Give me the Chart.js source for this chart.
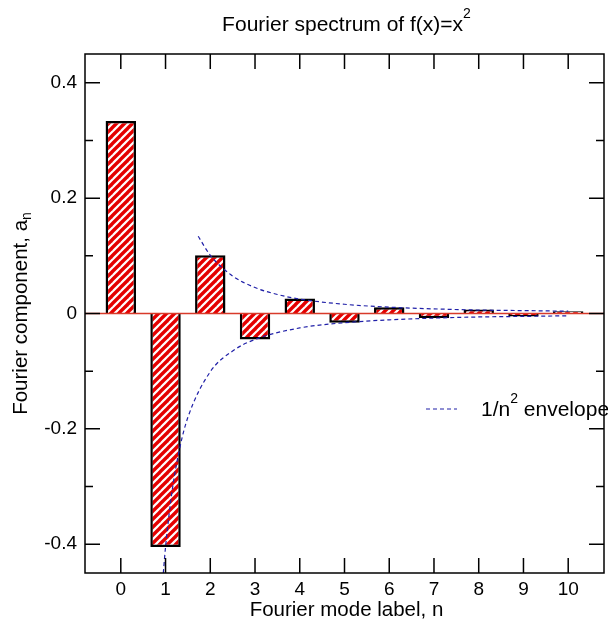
<!DOCTYPE html>
<html>
<head>
<meta charset="utf-8">
<script src="https://cdn.jsdelivr.net/npm/chart.js@4/dist/chart.umd.min.js"></script>
<style>
  html, body { margin: 0; padding: 0; background: #fff; }
  #wrap { width: 608px; height: 621px; }
</style>
</head>
<body>
<div id="wrap"><canvas id="spectrum"></canvas></div>
<script>
// mode numbers and their coefficients a_n
const modes = [0, 1, 2, 3, 4, 5, 6, 7, 8, 9, 10];
const coeffs = [0.334, -0.405, 0.101, -0.045, 0.026, -0.016, 0.011, -0.008, 0.007, -0.005, 0.004];

// dashed 1/n^2 envelope, upper and lower branch
const envUpperN = [1.73, 2, 2.5, 3, 3.5, 4, 5, 6, 7, 8, 9, 10];
const envUpperY = [0.134, 0.101, 0.065, 0.045, 0.033, 0.025, 0.016, 0.011, 0.008, 0.006, 0.005, 0.004];
const envLowerN = [0.95, 1, 1.15, 1.33, 1.5, 2, 2.5, 3, 4, 5, 6, 7, 8, 9, 10];
const envLowerY = [-0.45, -0.405, -0.306, -0.229, -0.18, -0.101, -0.065, -0.045, -0.025, -0.016, -0.011, -0.008, -0.006, -0.005, -0.004];

const yMajor = [-0.4, -0.2, 0, 0.2, 0.4];
const yMinor = [-0.3, -0.1, 0.1, 0.3];
const xTicks = modes;

const FONT = '"Liberation Sans", Arial, Helvetica, sans-serif';

// red / white diagonal hatch
function makeHatch() {
  const c = document.createElement('canvas');
  c.width = 8; c.height = 8;
  const g = c.getContext('2d');
  g.fillStyle = '#ffffff';
  g.fillRect(0, 0, 8, 8);
  g.strokeStyle = '#e40000';
  g.lineWidth = 3.4;
  for (let o = -8; o <= 8; o += 8) {
    g.beginPath();
    g.moveTo(o - 2, 10);
    g.lineTo(o + 10, -2);
    g.stroke();
  }
  return g.createPattern(c, 'repeat');
}

// draw text made of pieces, some raised or lowered
function richText(ctx, parts, x, y, size, align) {
  const small = Math.round(size * 0.66);
  let total = 0;
  parts.forEach(p => {
    ctx.font = (p.sup || p.sub ? small : size) + 'px ' + FONT;
    p.w = ctx.measureText(p.t).width;
    total += p.w;
  });
  let cx = align === 'left' ? x : x - total / 2;
  ctx.textBaseline = 'middle';
  ctx.textAlign = 'left';
  parts.forEach(p => {
    ctx.font = (p.sup || p.sub ? small : size) + 'px ' + FONT;
    let dy = 0;
    if (p.sup) dy = -size * 0.5;
    if (p.sub) dy = size * 0.3;
    ctx.fillText(p.t, cx, y + dy);
    cx += p.w;
  });
}

const framePlugin = {
  id: 'frame',
  afterDatasetsDraw(chart) {
    const ctx = chart.ctx;
    const a = chart.chartArea;
    const xs = chart.scales.x, ys = chart.scales.y;
    ctx.save();
    // zero line
    const y0 = ys.getPixelForValue(0);
    ctx.strokeStyle = '#d83a2a';
    ctx.lineWidth = 1.3;
    ctx.beginPath();
    ctx.moveTo(a.left, y0);
    ctx.lineTo(a.right, y0);
    ctx.stroke();

    // frame
    ctx.strokeStyle = '#000';
    ctx.lineWidth = 1.5;
    ctx.strokeRect(a.left, a.top, a.right - a.left, a.bottom - a.top);

    // inward ticks
    ctx.beginPath();
    xTicks.forEach(v => {
      const px = xs.getPixelForValue(v);
      ctx.moveTo(px, a.bottom); ctx.lineTo(px, a.bottom - 15);
      ctx.moveTo(px, a.top); ctx.lineTo(px, a.top + 15);
    });
    yMajor.forEach(v => {
      const py = ys.getPixelForValue(v);
      ctx.moveTo(a.left, py); ctx.lineTo(a.left + 15, py);
      ctx.moveTo(a.right, py); ctx.lineTo(a.right - 15, py);
    });
    yMinor.forEach(v => {
      const py = ys.getPixelForValue(v);
      ctx.moveTo(a.left, py); ctx.lineTo(a.left + 8, py);
      ctx.moveTo(a.right, py); ctx.lineTo(a.right - 8, py);
    });
    ctx.stroke();

    // legend
    ctx.strokeStyle = '#2020a8';
    ctx.lineWidth = 1.2;
    ctx.setLineDash([4, 3]);
    ctx.beginPath();
    ctx.moveTo(426, 409);
    ctx.lineTo(457, 409);
    ctx.stroke();
    ctx.setLineDash([]);
    ctx.fillStyle = '#000';
    richText(ctx, [{ t: '1/n' }, { t: '2', sup: true }, { t: ' envelope' }], 481, 410, 21, 'left');

    // titles
    richText(ctx, [{ t: 'Fourier spectrum of f(x)=x' }, { t: '2', sup: true }], (a.left + a.right) / 2 + 2, 25, 21, 'center');
    richText(ctx, [{ t: 'Fourier mode label, n' }], (a.left + a.right) / 2 + 2, 610, 20.5, 'center');
    ctx.translate(21, (a.top + a.bottom) / 2);
    ctx.rotate(-Math.PI / 2);
    richText(ctx, [{ t: 'Fourier component, a' }, { t: 'n', sub: true }], 0, 0, 20.5, 'center');
    ctx.restore();
  }
};

const ctx = document.getElementById('spectrum').getContext('2d');
const hatch = makeHatch();

new Chart(ctx, {
  type: 'bar',
  data: {
    datasets: [
      {
        type: 'bar',
        data: modes.map((n, i) => ({ x: n, y: coeffs[i] })),
        backgroundColor: hatch,
        borderColor: '#000',
        borderWidth: 2.5,
        barPercentage: 0.68,
        categoryPercentage: 1,
        order: 2
      },
      {
        type: 'line',
        data: envUpperN.map((n, i) => ({ x: n, y: envUpperY[i] })),
        borderColor: '#2020a8',
        borderWidth: 1.2,
        borderDash: [4, 3],
        pointRadius: 0,
        cubicInterpolationMode: 'monotone',
        fill: false,
        order: 1
      },
      {
        type: 'line',
        data: envLowerN.map((n, i) => ({ x: n, y: envLowerY[i] })),
        borderColor: '#2020a8',
        borderWidth: 1.2,
        borderDash: [4, 3],
        pointRadius: 0,
        cubicInterpolationMode: 'monotone',
        fill: false,
        order: 1
      }
    ]
  },
  options: {
    responsive: true,
    maintainAspectRatio: false,
    animation: false,
    layout: { padding: { top: 54, right: 4, left: 0, bottom: 0 } },
    plugins: { legend: { display: false }, tooltip: { enabled: false } },
    scales: {
      x: {
        type: 'linear',
        min: -0.8,
        max: 10.8,
        offset: false,
        grid: { display: false, drawTicks: false },
        border: { display: false },
        afterBuildTicks: s => { s.ticks = xTicks.map(v => ({ value: v })); },
        afterFit: s => { s.height = 48; },
        ticks: {
          color: '#000',
          padding: 5,
          maxRotation: 0,
          font: { family: FONT, size: 19 },
          callback: v => String(v)
        }
      },
      y: {
        type: 'linear',
        min: -0.45,
        max: 0.45,
        grid: { display: false, drawTicks: false },
        border: { display: false },
        afterBuildTicks: s => { s.ticks = yMajor.map(v => ({ value: v })); },
        afterFit: s => { s.width = 85; },
        ticks: {
          color: '#000',
          padding: 8,
          font: { family: FONT, size: 19 },
          callback: v => String(Math.round(v * 10) / 10)
        }
      }
    }
  },
  plugins: [framePlugin]
});
</script>
</body>
</html>
